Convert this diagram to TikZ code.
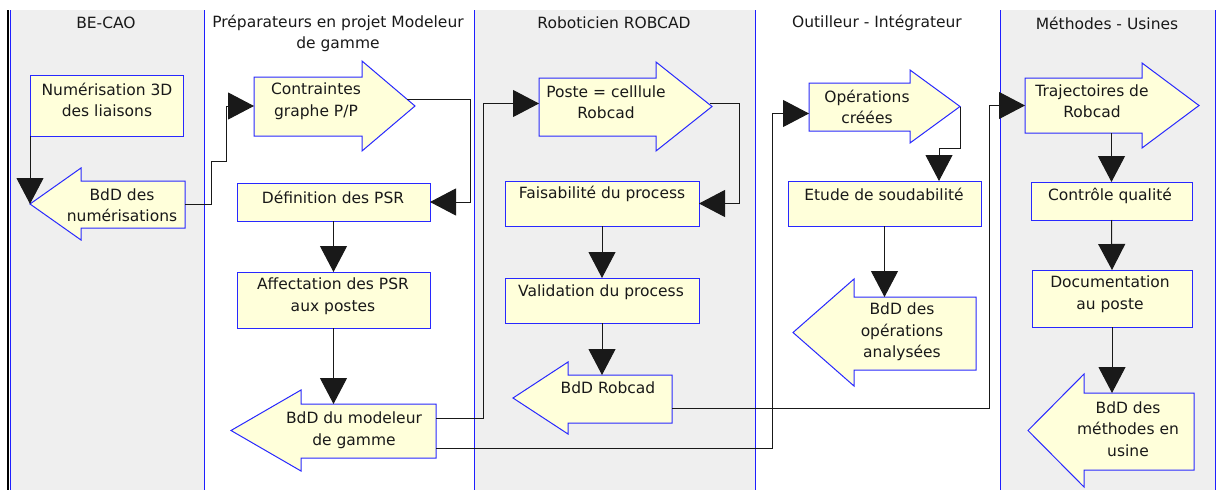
\documentclass[tikz,border=0pt]{standalone}
\usepackage{fontspec}
\setmainfont{DejaVu Sans}
\usetikzlibrary{arrows.meta,fit,calc}
\definecolor{lanegray}{RGB}{239,239,239}
\definecolor{boxfill}{RGB}{255,255,218}
\definecolor{boxline}{RGB}{40,40,255}
\definecolor{laneline}{RGB}{30,30,255}
\definecolor{inkc}{RGB}{25,25,25}
\newcommand\shapeL[8]{% name, tipx, basex, endx, headtop, headbot, bodytop, bodybot
  \path[shp] (#2,{(#5+#6)/2}) -- (#3,#5) -- (#3,#7) -- (#4,#7) -- (#4,#8) -- (#3,#8) -- (#3,#6) -- cycle;
  \node[bb, fit={(#2,#5)(#4,#6)}] (#1) {};}
\newcommand\shapeR[8]{% name, startx, basex, tipx, headtop, headbot, bodytop, bodybot
  \path[shp] (#2,#7) -- (#3,#7) -- (#3,#5) -- (#4,{(#5+#6)/2}) -- (#3,#6) -- (#3,#8) -- (#2,#8) -- cycle;
  \node[bb, fit={(#2,#5)(#4,#6)}] (#1) {};}
\begin{document}
\begin{tikzpicture}[x=1pt,y=-1pt,
  txt/.style={font=\fontsize{15.5}{21.5}\selectfont, align=center, inner sep=0, text=inkc},
  box/.style={draw=boxline, fill=boxfill, line width=1pt, inner sep=0, outer sep=0},
  shp/.style={draw=boxline, fill=boxfill, line width=1pt, line join=miter},
  bb/.style={inner sep=0, outer sep=0},
  con/.style={draw=inkc, line width=1pt, -{Triangle[length=26pt,width=27pt]}},
  lane/.style={draw=laneline, line width=1pt}]
\useasboundingbox (0,0) rectangle (1216,490);
% lanes
\fill[lanegray] (10,10) rectangle (204,490);
\fill[lanegray] (474,10) rectangle (755,490);
\fill[lanegray] (1000,10) rectangle (1215,490);
\foreach \lx in {10,204,474,755,1000,1215} {\draw[lane] (\lx,10) -- (\lx,490);}
\draw[black, line width=2pt] (8,10) -- (8,490);
% titles
\node[txt] (t1) at (106,23) {BE-CAO};
\node[txt] (t2) at (338,33.5) {Préparateurs en projet Modeleur\\de gamme};
\node[txt] (t3) at (614,23) {Roboticien ROBCAD};
\node[txt] (t4) at (877,23) {Outilleur - Intégrateur};
\node[txt] (t5) at (1107,23) {Méthodes - Usines};
% boxes
\node[box, fit={(30,75)(183,136)}] (num3d) {};
\node[box, fit={(237,183)(430,221)}] (def) {};
\node[box, fit={(237,272)(430,328)}] (aff) {};
\node[box, fit={(505,181)(699,226)}] (fais) {};
\node[box, fit={(505,278)(699,323)}] (valid) {};
\node[box, fit={(788,181)(981,226)}] (etude) {};
\node[box, fit={(1031,182)(1192,220)}] (ctrl) {};
\node[box, fit={(1032,270)(1192,327)}] (doc) {};
% arrow shapes
\shapeL{bnum}{30}{81}{185}{168}{240}{181}{228}
\shapeL{bmod}{231}{301}{436}{390}{471}{404}{458}
\shapeL{brob}{513}{568}{672}{362}{434}{375}{423}
\shapeL{bop}{793}{854}{976}{279}{386}{297}{370}
\shapeL{bmeth}{1028}{1084}{1194}{374}{487}{393}{470}
\shapeR{contr}{254}{362}{415}{61}{151}{77}{136}
\shapeR{poste}{539}{656}{712}{62}{151}{78}{136}
\shapeR{oper}{809}{910}{960}{70}{143}{83}{131}
\shapeR{traj}{1025}{1142}{1199}{63}{148}{78}{133}
% texts
\node[txt] (num3dT) at (107,100) {Numérisation 3D\\des liaisons};
\node[txt] (bnumT) at (122,205) {BdD des\\numérisations};
\node[txt] (contrT) at (316,101) {Contraintes\\graphe P/P};
\node[txt] (defT) at (333,197) {Définition des PSR};
\node[txt] (affT) at (333,296) {Affectation des PSR\\aux postes};
\node[txt] (bmodT) at (354,430) {BdD du modeleur\\de gamme};
\node[txt] (posteT) at (606,102) {Poste = celllule\\Robcad};
\node[txt] (faisT) at (602,194) {Faisabilité du process};
\node[txt] (validT) at (601,292) {Validation du process};
\node[txt] (brobT) at (608,388) {BdD Robcad};
\node[txt] (operT) at (867,107) {Opérations\\créées};
\node[txt] (etudeT) at (884,194) {Etude de soudabilité};
\node[txt] (bopT) at (902,332) {BdD des\\opérations\\analysées};
\node[txt] (trajT) at (1092,101) {Trajectoires de\\Robcad};
\node[txt] (ctrlT) at (1110,196) {Contrôle qualité};
\node[txt] (docT) at (1110,294) {Documentation\\au poste};
\node[txt] (bmethT) at (1128,429) {BdD des\\méthodes en\\usine};
% connectors
\draw[con] (num3d.south west) -- (bnum.west);
\draw[con] (bnum.east) -- (211,204) -- (211,161) -- (226,161) |- (contr.west);
\draw[con] ($(contr.east)+(-8,-7)$) -- (470,99) |- (def.east);
\draw[con] (def.south) -- (aff.north);
\draw[con] (aff.south) -- (333.5,404);
\draw[con] ([yshift=12pt]bmod.east) -- (483,418.5) |- ([yshift=3pt]poste.west);
\draw[con] ([yshift=-18pt]bmod.east) -- (772,448.5) |- ([yshift=-7pt]oper.west);
\draw[con] ($(poste.east)+(-2,-3)$) -- (739,103.5) |- (fais.east);
\draw[con] (fais.south) -- (valid.north);
\draw[con] (valid.south) -- (602,375);
\draw[con] ([yshift=-10pt]brob.east) -- (989,408) |- (traj.west);
\draw[con] (oper.east) -- (960,148) -- (939,148) -- (939,181);
\draw[con] (etude.south) -- (884.5,297);
\draw[con] (1111.5,133) -- (ctrl.north);
\draw[con] (ctrl.south) -- (doc.north);
\draw[con] (doc.south) -- (1112,393);
\end{tikzpicture}
\end{document}
